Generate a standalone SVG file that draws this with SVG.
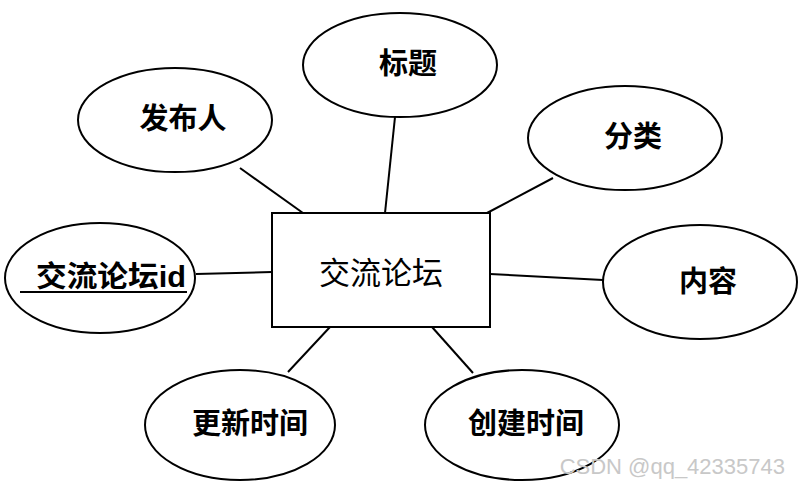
<svg xmlns="http://www.w3.org/2000/svg" width="802" height="488" viewBox="0 0 802 488">
<style>
.e{fill:#fff;stroke:#000;stroke-width:2}
.t{font-family:"Liberation Sans","Noto Sans CJK SC",sans-serif;font-weight:bold;font-size:29px;text-anchor:middle;dominant-baseline:central;fill:#000}
.c line{stroke:#000;stroke-width:2}
</style>
<rect width="802" height="488" fill="#fff"/>
<g class="c">
<line x1="240" y1="168" x2="303" y2="213"/>
<line x1="395" y1="117" x2="385" y2="213"/>
<line x1="553" y1="178" x2="487" y2="213"/>
<line x1="196" y1="274" x2="272" y2="272"/>
<line x1="490" y1="274" x2="603" y2="280"/>
<line x1="330" y1="327" x2="288" y2="372"/>
<line x1="432" y1="327" x2="473" y2="373"/>
</g>
<g id="main"><rect x="272" y="213" width="218" height="114" fill="#fff" stroke="#000" stroke-width="2"/>
<text x="381" y="270" style="font-family:'Noto Sans CJK SC',sans-serif;font-size:31px;text-anchor:middle;dominant-baseline:central">交流论坛</text></g>
<g id="n1"><ellipse class="e" cx="400" cy="65" rx="97" ry="52"/><text class="t" x="408" y="64">标题</text></g>
<g id="n2"><ellipse class="e" cx="175" cy="120" rx="97" ry="52"/><text class="t" x="183" y="119">发布人</text></g>
<g id="n3"><ellipse class="e" cx="625" cy="138" rx="97" ry="52"/><text class="t" x="633" y="137">分类</text></g>
<g id="n4"><ellipse class="e" cx="100" cy="278" rx="95" ry="55"/><text class="t" x="36" y="277" style="text-anchor:start" textLength="150" lengthAdjust="spacingAndGlyphs">交流论坛id</text><line x1="20" y1="292" x2="187" y2="292" stroke="#000" stroke-width="2"/></g>
<g id="n5"><ellipse class="e" cx="700" cy="282" rx="97" ry="57"/><text class="t" x="708" y="282">内容</text></g>
<g id="n6"><ellipse class="e" cx="240" cy="425" rx="95" ry="55"/><text class="t" x="250" y="424">更新时间</text></g>
<g id="n7"><ellipse class="e" cx="522" cy="425" rx="97" ry="55"/><text class="t" x="526" y="424">创建时间</text></g>
<text x="785" y="474" style="font-family:'Liberation Sans',sans-serif;font-size:22px;text-anchor:end;fill:#c8c8c8">CSDN @qq_42335743</text>
</svg>
